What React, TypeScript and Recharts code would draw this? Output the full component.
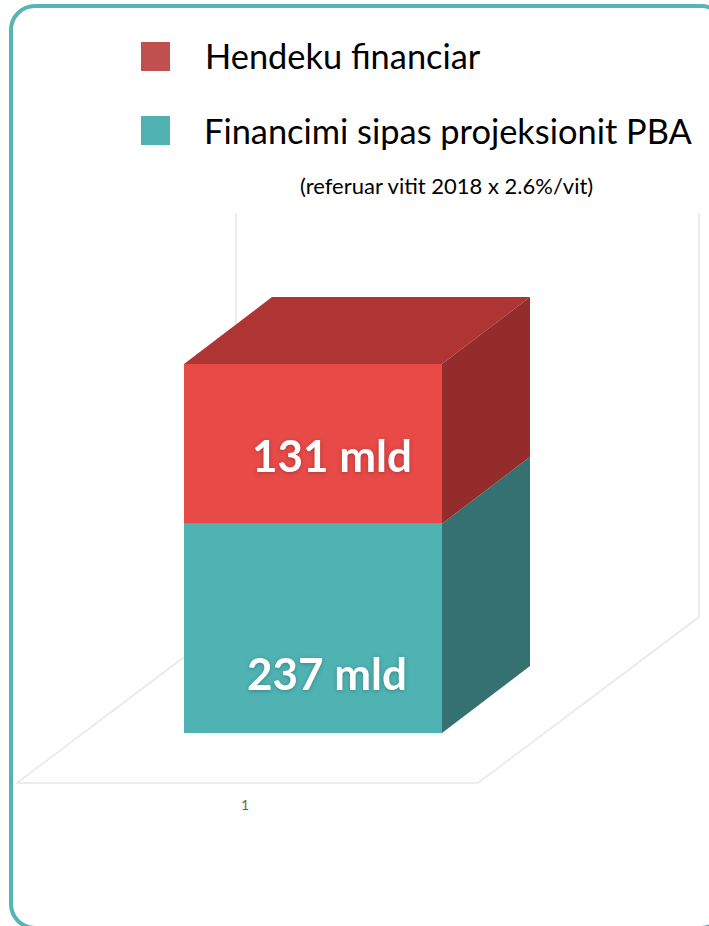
import { BarChart, Bar, XAxis, YAxis, Legend, LabelList, Customized } from 'recharts'

const categories = ['1']
const fundingValues = [237]
// the picture draws the red block taller than 131 would be next to 237, so this is its drawn height in the same units
const gapDrawnValues = [181]
const fundingLabels = ['237 mld']
const gapLabels = ['131 mld']
const seriesNames = ['Hendeku financiar', 'Financimi sipas projeksionit PBA']
const legendNote = '(referuar vitit 2018 x 2.6%/vit)'

const chartData = categories.map((name, i) => ({
  name,
  funding: fundingValues[i],
  gap: gapDrawnValues[i],
  fundingLabel: fundingLabels[i],
  gapLabel: gapLabels[i],
}))

const FONT = 'Lato, sans-serif'
const DEPTH_X = 88
const DEPTH_Y = 67

function Block3D({ x, y, width, height, front, side, top }: any) {
  const right = x + width
  const bottom = y + height
  return (
    <g>
      {top && (
        <polygon
          points={`${x},${y} ${x + DEPTH_X},${y - DEPTH_Y} ${right + DEPTH_X},${y - DEPTH_Y} ${right},${y}`}
          fill={top}
        />
      )}
      <polygon
        points={`${right},${y} ${right + DEPTH_X},${y - DEPTH_Y} ${right + DEPTH_X},${bottom - DEPTH_Y} ${right},${bottom}`}
        fill={side}
      />
      <rect x={x} y={y} width={width} height={height} fill={front} />
    </g>
  )
}

// back walls and floor of the 3D box, plus the rounded card frame
function Scene() {
  const line = { stroke: '#e8e8e8', strokeWidth: 1.6, fill: 'none' }
  return (
    <g>
      <rect x={11} y={6} width={714} height={922} rx={24} fill="none" stroke="#55b4b4" strokeWidth={4} />
      <polyline points="236,213 236,620" {...line} />
      <polyline points="699,213 699,617 478,783 17,783 236,618" {...line} />
    </g>
  )
}

function BlockLabel({ x, y, width, height, value, dx, dy }: any) {
  return (
    <text
      x={x + width / 2 + dx}
      y={y + height / 2 + dy}
      textAnchor="middle"
      dominantBaseline="central"
      fill="#fff"
      fontFamily={FONT}
      fontWeight={700}
      fontSize={44}
      style={{ filter: 'drop-shadow(0 1px 2px rgba(0,0,0,0.25))' }}
    >
      {value}
    </text>
  )
}

function LegendBox() {
  const swatches = ['#c0504d', '#4fb1b1']
  const rows = [
    { top: 42, left: 205 },
    { top: 116, left: 204 },
  ]
  return (
    <div style={{ position: 'relative', width: 709, height: 210, fontFamily: FONT, color: '#000' }}>
      {seriesNames.map((name, i) => (
        <div key={name}>
          <div
            style={{
              position: 'absolute',
              left: 141,
              top: rows[i].top,
              width: 29,
              height: 29,
              background: swatches[i],
            }}
          />
          <div
            style={{
              position: 'absolute',
              left: rows[i].left,
              top: rows[i].top - 6 + i,
              fontSize: 34.4,
              lineHeight: '40px',
              whiteSpace: 'nowrap',
            }}
          >
            {name}
          </div>
        </div>
      ))}
      <div
        style={{
          position: 'absolute',
          left: 300,
          top: 174,
          fontSize: 22,
          lineHeight: '24px',
          whiteSpace: 'nowrap',
        }}
      >
        {legendNote}
      </div>
    </div>
  )
}

function CategoryTick({ x, y, payload }: any) {
  return (
    <text x={x - 68} y={y + 69} textAnchor="middle" fill="#666" fontSize={14} fontFamily={FONT}>
      {payload.value}
    </text>
  )
}

export default function App() {
  return (
    <div style={{ position: 'absolute', left: 0, top: 0, width: 709, height: 926, overflow: 'hidden', background: '#fff' }}>
      <BarChart
        width={709}
        height={926}
        data={chartData}
        barCategoryGap={0}
        margin={{ top: 364, right: 267, bottom: 163, left: 184 }}
      >
        <Customized component={Scene} />
        <XAxis dataKey="name" axisLine={false} tickLine={false} tick={CategoryTick} interval={0} />
        <YAxis hide type="number" domain={[0, 418]} />
        <Legend
          verticalAlign="middle"
          align="center"
          wrapperStyle={{ top: 0, left: 0, width: 709, height: 210 }}
          content={() => <LegendBox />}
        />
        <Bar
          dataKey="funding"
          stackId="a"
          name={seriesNames[1]}
          isAnimationActive={false}
          shape={(props: any) => <Block3D {...props} front="#4fb3b3" side="#357170" />}
        >
          <LabelList dataKey="fundingLabel" content={(p: any) => <BlockLabel {...p} dx={14} dy={45} />} />
        </Bar>
        <Bar
          dataKey="gap"
          stackId="a"
          name={seriesNames[0]}
          isAnimationActive={false}
          shape={(props: any) => <Block3D {...props} front="#e84a47" side="#932c2b" top="#ae3533" />}
        >
          <LabelList dataKey="gapLabel" content={(p: any) => <BlockLabel {...p} dx={19} dy={11} />} />
        </Bar>
      </BarChart>
    </div>
  )
}
